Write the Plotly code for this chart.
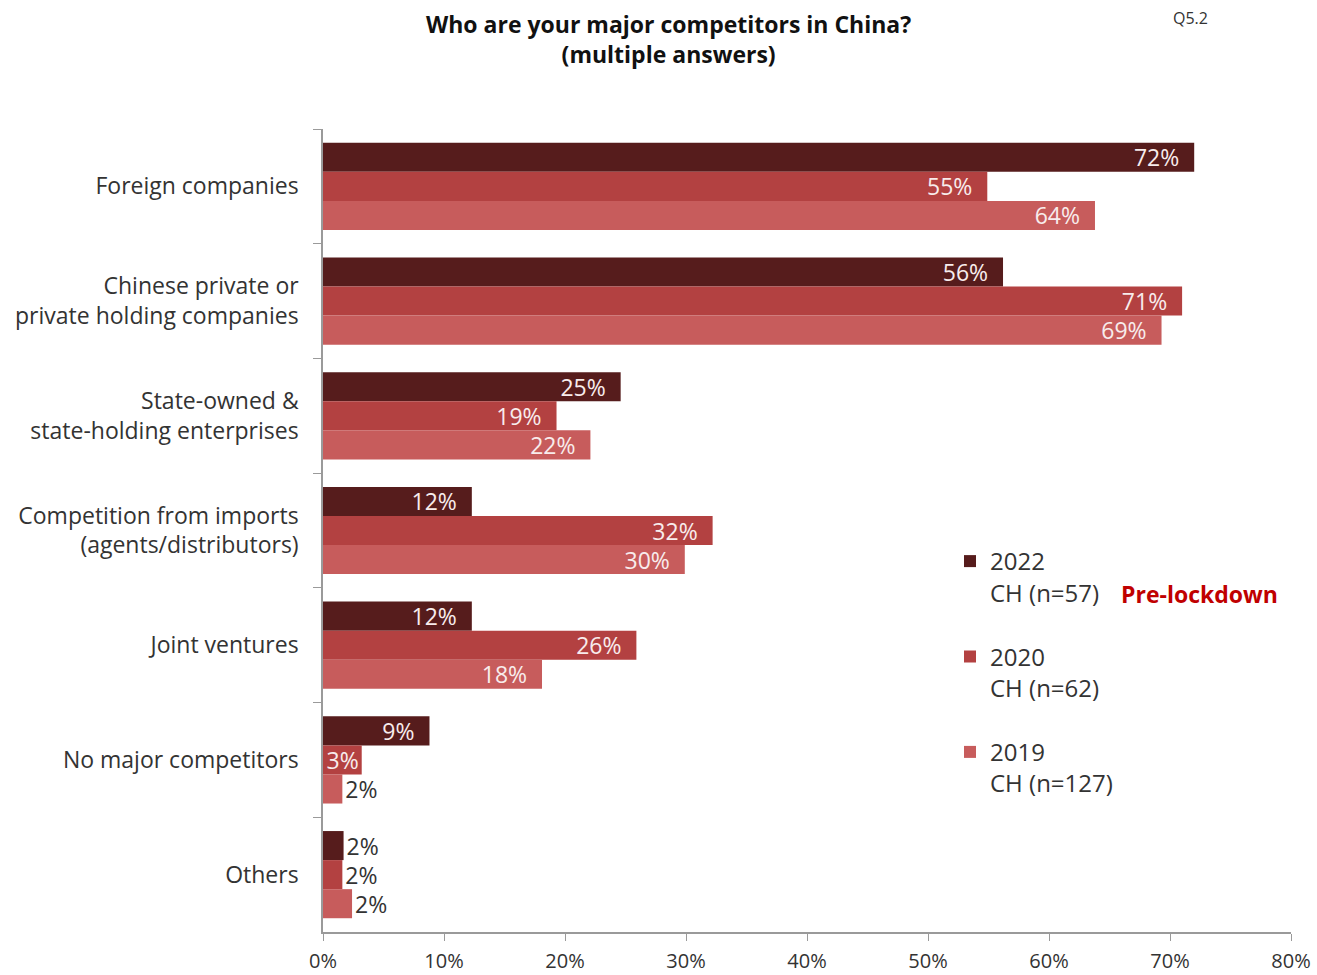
import plotly.graph_objects as go

categories = [
    "Foreign companies",
    "Chinese private or<br>private holding companies",
    "State-owned &<br>state-holding enterprises",
    "Competition from imports<br>(agents/distributors)",
    "Joint ventures",
    "No major competitors",
    "Others",
]

series_names = ["2022<br>CH (n=57)", "2020<br>CH (n=62)", "2019<br>CH (n=127)"]
values_2022 = [72.0, 56.2, 24.6, 12.3, 12.3, 8.8, 1.7]
values_2020 = [54.9, 71.0, 19.3, 32.2, 25.9, 3.2, 1.6]
values_2019 = [63.8, 69.3, 22.1, 29.9, 18.1, 1.6, 2.4]

# label placement: inside the bar end unless the bar is too short
positions_2022 = ["inside"] * 6 + ["outside"]
positions_2020 = ["inside"] * 6 + ["outside"]
positions_2019 = ["inside"] * 5 + ["outside", "outside"]

colors = ["#561c1c", "#b34141", "#c75c5c"]
x_ticks = [0, 10, 20, 30, 40, 50, 60, 70, 80]

FONT = "Open Sans, Noto Sans, sans-serif"
NBSP = "\u00a0"

# plot area in pixels
L, R, T, B = 323, 26, 129, 43
PW, PH = 1317 - L - R, 975 - T - B


def px_x(x):
    return (x - L) / PW


def px_y(y):
    return 1 - (y - T) / PH


def bar_label(v, pos):
    # inside labels sit a little back from the bar end
    label = f"{round(v)}%"
    if pos == "inside" and v >= 5:
        label += NBSP * 2
    return label


fig = go.Figure()
for name, vals, pos, col in zip(
    series_names,
    [values_2022, values_2020, values_2019],
    [positions_2022, positions_2020, positions_2019],
    colors,
):
    fig.add_trace(
        go.Bar(
            y=categories,
            x=vals,
            name=name,
            legendgroup=name,
            orientation="h",
            marker=dict(color=col, line=dict(width=0)),
            text=[bar_label(v, p) for v, p in zip(vals, pos)],
            textposition=pos,
            insidetextanchor="end",
            constraintext="none",
            cliponaxis=False,
            insidetextfont=dict(family=FONT, size=23, color="#f8ecec"),
            outsidetextfont=dict(family=FONT, size=23, color="#333333"),
            hoverinfo="skip",
        )
    )

fig.update_layout(
    width=1317,
    height=975,
    margin=dict(l=L, r=R, t=T, b=B, pad=0),
    paper_bgcolor="white",
    plot_bgcolor="white",
    barmode="group",
    bargap=0.24,
    bargroupgap=0,
    font=dict(family=FONT, size=20, color="#333333"),
    xaxis=dict(
        range=[0, 80],
        tickvals=x_ticks,
        ticktext=[f"{t}%" for t in x_ticks],
        automargin=False,
        showgrid=False,
        zeroline=False,
        showline=True,
        linecolor="#9a9a9a",
        linewidth=1.5,
        ticks="outside",
        ticklen=7,
        tickcolor="#9a9a9a",
        ticklabelstandoff=3,
        tickfont=dict(family=FONT, size=20, color="#333333"),
        fixedrange=True,
    ),
    yaxis=dict(
        autorange="reversed",
        automargin=False,
        showgrid=False,
        showline=True,
        linecolor="#9a9a9a",
        linewidth=1.5,
        ticks="outside",
        tickson="boundaries",
        ticklen=8,
        tickcolor="#9a9a9a",
        ticklabelstandoff=18,
        tickfont=dict(family=FONT, size=23, color="#333333"),
        fixedrange=True,
    ),
    legend=dict(
        x=px_x(950),
        xanchor="left",
        y=px_y(539),
        yanchor="top",
        valign="top",
        tracegroupgap=30,
        font=dict(family=FONT, size=24, color="#333333"),
        bgcolor="rgba(0,0,0,0)",
        itemclick=False,
        itemdoubleclick=False,
    ),
    showlegend=True,
)

# chart title
fig.add_annotation(
    text="<b>Who are your major competitors in China?<br>(multiple answers)</b>",
    xref="paper", yref="paper",
    x=px_x(668), y=px_y(6),
    xanchor="center", yanchor="top",
    showarrow=False,
    font=dict(family=FONT, size=23, color="#111111"),
)
fig.add_annotation(
    text="Q5.2",
    xref="paper", yref="paper",
    x=px_x(1190), y=px_y(18),
    xanchor="center", yanchor="middle",
    showarrow=False,
    font=dict(family=FONT, size=16, color="#333333"),
)
fig.add_annotation(
    text="<b>Pre-lockdown</b>",
    xref="paper", yref="paper",
    x=px_x(1119), y=px_y(594),
    xanchor="left", yanchor="middle",
    showarrow=False,
    font=dict(family=FONT, size=23, color="#c00000"),
)

fig.write_html("out.html")
